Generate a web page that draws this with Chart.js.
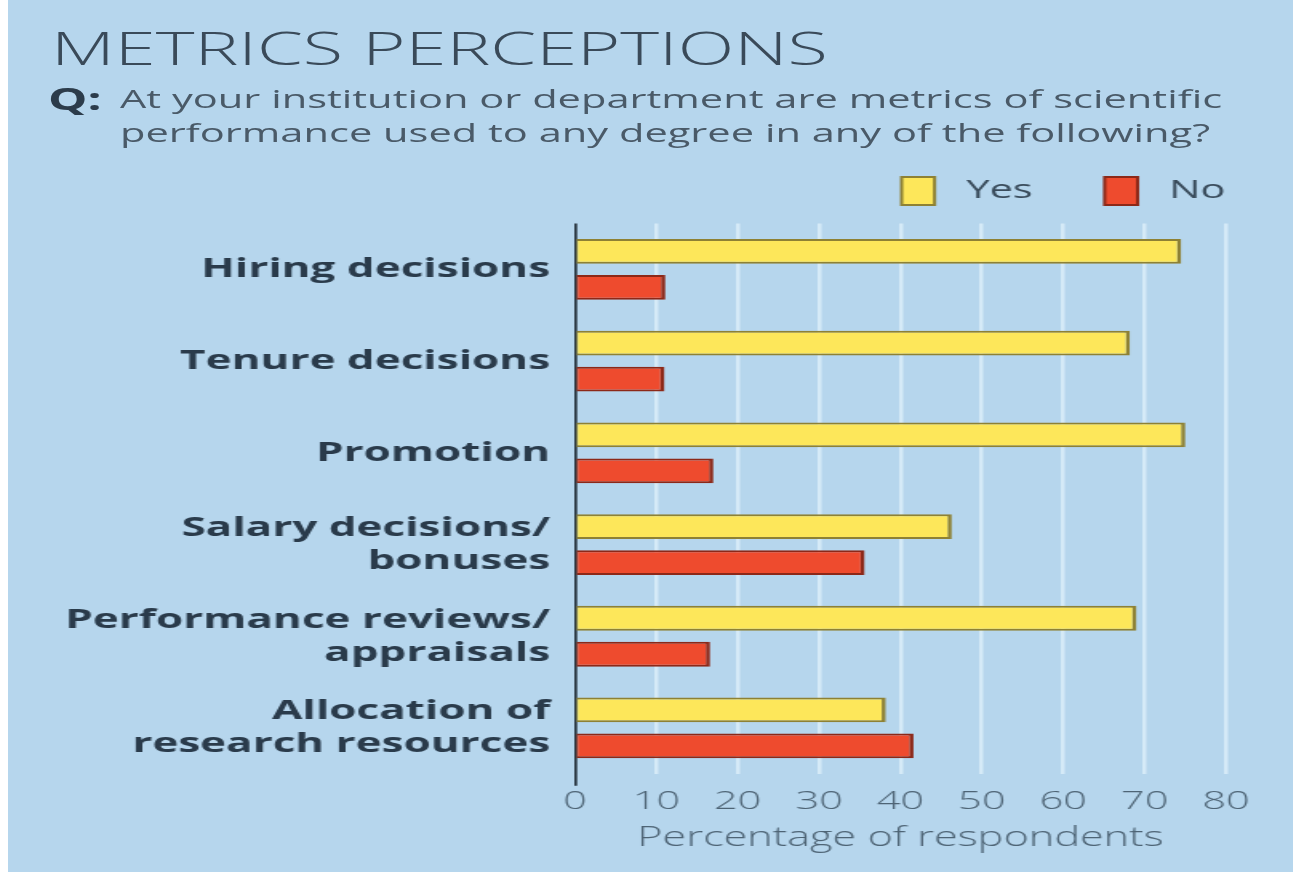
<!DOCTYPE html>
<html>
<head>
<meta charset="utf-8">
<script src="https://cdn.jsdelivr.net/npm/chart.js@4.4.1/dist/chart.umd.min.js"></script>
<style>
  html, body { margin: 0; padding: 0; background: #ffffff; }
  #panel {
    position: absolute; left: 8px; top: 0; width: 1285px; height: 872px;
    background: #b6d6ed; overflow: hidden;
  }
  /* the source graphic is stretched wide, so the canvas is drawn narrow and widened */
  #chart { position: absolute; left: 0; top: 0; transform: scaleX(1.6); transform-origin: 0 0; }
  .txt { position: absolute; white-space: nowrap; transform-origin: 0 0; font-family: 'Open Sans', sans-serif; line-height: normal; }
  .title { left: 43px; top: 16px; font-size: 46px; font-weight: 300; color: #3a4a59; transform: scaleX(1.607); }
  .q { left: 40px; top: 77px; font-size: 31px; font-weight: 700; color: #2c3c4b; transform: scaleX(1.6); }
  .line { left: 112px; font-size: 25px; color: #4a5a68; transform: scaleX(1.664); }
</style>
</head>
<body>
<div id="panel">
  <canvas id="chart" width="803" height="872"></canvas>
  <div class="txt title">METRICS PERCEPTIONS</div>
  <div class="txt q">Q:</div>
  <div class="txt line" style="top:81px">At your institution or department are metrics of scientific</div>
  <div class="txt line" style="top:115px">performance used to any degree in any of the following?</div>
</div>
<script>
// ── Data ─────────────────────────────────────────────────────────────────────
const categories = [
  'Hiring decisions',
  'Tenure decisions',
  'Promotion',
  ['Salary decisions/', 'bonuses'],
  ['Performance reviews/', 'appraisals'],
  ['Allocation of', 'research resources'],
];
const yesValues = [74.5, 68.2, 75, 46.3, 69, 38.2];
const noValues  = [11.1, 11, 17, 35.6, 16.6, 41.6];
const xTicks    = [0, 10, 20, 30, 40, 50, 60, 70, 80];

// ── Palette ──────────────────────────────────────────────────────────────────
const COLORS = {
  yes:       '#fde75a',
  yesBorder: '#8e8134',
  no:        '#ee4b2e',
  noBorder:  '#8c2818',
  grid:      '#d5eaf7',
  axis:      '#25313b',
  ink:       '#2a3b4b',
  muted:     '#4e6475',
};
const FONT = "'Open Sans', sans-serif";

// canvas units (page x = 8 + 1.6 * cx)
const AXIS_LEFT = 354.4;
const AXIS_RIGHT_PAD = 41.75;

const barStyle = {
  borderWidth: { top: 2, bottom: 2, right: 2.6, left: 1 },
  borderSkipped: false,
  categoryPercentage: 0.785,
  barPercentage: 0.69,
};

new Chart(document.getElementById('chart'), {
  type: 'bar',
  data: {
    labels: categories,
    datasets: [
      { label: 'Yes', data: yesValues, backgroundColor: COLORS.yes, borderColor: COLORS.yesBorder, ...barStyle },
      { label: 'No',  data: noValues,  backgroundColor: COLORS.no,  borderColor: COLORS.noBorder,  ...barStyle },
    ],
  },
  options: {
    indexAxis: 'y',
    responsive: false,
    animation: false,
    layout: { padding: { top: 159, right: 24, bottom: 17.6, left: 0 } },
    plugins: {
      legend: {
        position: 'top',
        align: 'end',
        labels: {
          color: '#3a4c5c',
          boxWidth: 20.6,
          boxHeight: 28,
          padding: 18,
          font: { family: FONT, size: 26 },
          // extra spacing between swatch, text and next item
          generateLabels: chart => Chart.defaults.plugins.legend.labels.generateLabels(chart)
            .map((l, i) => ({ ...l, lineWidth: 2, text: ' ' + l.text + (i === 0 ? '    ' : '') })),
        },
      },
      // empty subtitle used only as a gap between legend and plot
      subtitle: { display: true, text: '', position: 'top', weight: 500, font: { size: 1, lineHeight: 1 }, padding: { top: 7.6, bottom: 0 } },
      tooltip: { enabled: false },
    },
    scales: {
      x: {
        min: 0,
        max: 80,
        afterBuildTicks: s => { s.ticks = xTicks.map(v => ({ value: v })); },
        afterFit: s => { s.paddingRight = AXIS_RIGHT_PAD; },
        grid: {
          color: ctx => ctx.tick && ctx.tick.value === 0 ? COLORS.axis : COLORS.grid,
          lineWidth: ctx => ctx.tick && ctx.tick.value === 0 ? 1.7 : 2.5,
          tickColor: ctx => ctx.tick && ctx.tick.value === 0 ? COLORS.axis : 'rgba(0,0,0,0)',
          tickLength: 12,
          drawTicks: true,
        },
        border: { display: false },
        ticks: {
          color: COLORS.muted,
          padding: 0,
          font: { family: FONT, size: 26, weight: 300 },
        },
        title: {
          display: true,
          text: 'Percentage of respondents',
          color: COLORS.muted,
          padding: { top: 5, bottom: 0 },
          font: { family: FONT, size: 27, weight: 300 },
        },
      },
      y: {
        afterFit: s => { s.width = AXIS_LEFT; },
        grid: { display: false },
        border: { display: false },
        ticks: {
          color: COLORS.ink,
          padding: 7.6,
          font: { family: FONT, size: 27.5, weight: 700, lineHeight: 1.2 },
        },
      },
    },
  },
});
</script>
</body>
</html>
